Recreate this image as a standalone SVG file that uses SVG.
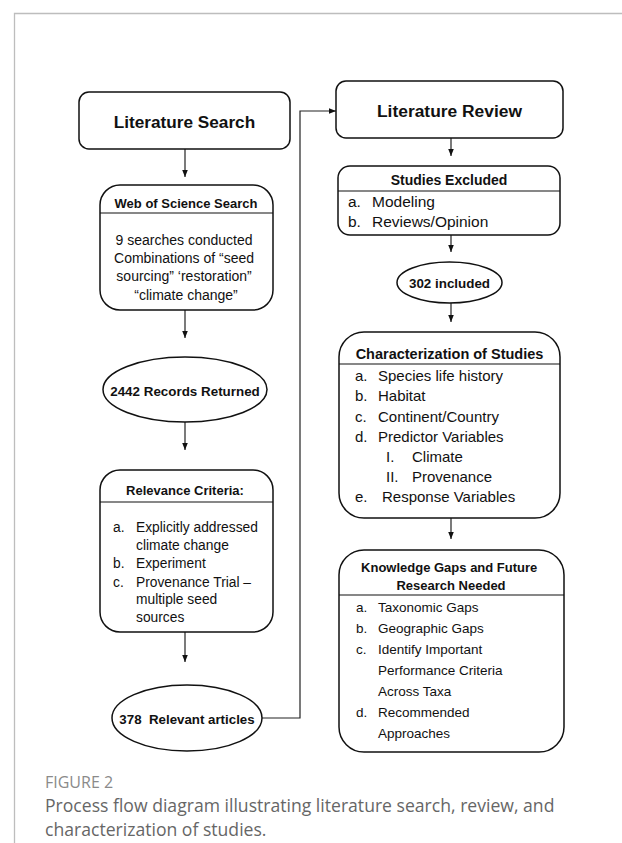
<svg xmlns="http://www.w3.org/2000/svg" width="622" height="843" viewBox="0 0 622 843">
<defs>
<marker id="ah" viewBox="0 0 10 10" refX="10" refY="5" markerWidth="7" markerHeight="7" markerUnits="userSpaceOnUse" orient="auto">
<path d="M0,1 L10,5 L0,9 z" fill="#111"/>
</marker>
<style>
.box{fill:#fff;stroke:#111;stroke-width:1.5}
.sep{stroke:#111;stroke-width:1.2}
.t{font-family:"Liberation Sans",Arial,sans-serif;fill:#111}
.b{font-weight:bold}
.c{text-anchor:middle}
.con{fill:none;stroke:#222;stroke-width:1.2}
.frame{fill:none;stroke:#bdbdbd;stroke-width:1.3}
.cap{font-family:"Open Sans","Liberation Sans",sans-serif}
</style>
</defs>
<rect width="622" height="843" fill="#fff"/>
<path class="frame" d="M622,13.5 H14.5 V843"/>

<g id="connectors">
<path class="con" d="M185,149 V177" marker-end="url(#ah)"/>
<path class="con" d="M185,310 V338" marker-end="url(#ah)"/>
<path class="con" d="M185,422 V450" marker-end="url(#ah)"/>
<path class="con" d="M185,632 V662" marker-end="url(#ah)"/>
<path class="con" d="M261,718 H300 V111 H336" stroke="#555" marker-end="url(#ah)"/>
<path class="con" d="M451,138 V156" marker-end="url(#ah)"/>
<path class="con" d="M451,235 V252" marker-end="url(#ah)"/>
<path class="con" d="M451,303 V322" marker-end="url(#ah)"/>
<path class="con" d="M451,518 V539" marker-end="url(#ah)"/>
</g>

<g id="literature-search">
<rect class="box" x="79" y="92" width="211" height="57" rx="10"/>
<text class="t b c" x="184.5" y="128" font-size="17.2">Literature Search</text>
</g>

<g id="web-of-science">
<rect class="box" x="100" y="185" width="173" height="125" rx="20"/>
<line class="sep" x1="100" y1="213" x2="273" y2="213"/>
<text class="t b c" x="186" y="208" font-size="13">Web of Science Search</text>
<text class="t c" x="186" font-size="14">
<tspan x="186" y="245">9 searches conducted</tspan>
<tspan x="186" y="263">Combinations of “seed</tspan>
<tspan x="186" y="281">sourcing” ‘restoration”</tspan>
<tspan x="186" y="300">“climate change”</tspan>
</text>
</g>

<g id="records-returned">
<ellipse class="box" cx="185" cy="389.5" rx="82" ry="32.5"/>
<text class="t b c" x="185" y="396" font-size="13.4">2442 Records Returned</text>
</g>

<g id="relevance-criteria">
<rect class="box" x="100" y="470" width="173" height="162" rx="20"/>
<line class="sep" x1="100" y1="502" x2="273" y2="502"/>
<text class="t b c" x="185" y="495" font-size="13">Relevance Criteria:</text>
<g class="t" font-size="13.8">
<text x="113" y="532">a.</text><text x="136" y="532">Explicitly addressed</text>
<text x="136" y="550">climate change</text>
<text x="113" y="568">b.</text><text x="136" y="568">Experiment</text>
<text x="113" y="587">c.</text><text x="136" y="587">Provenance Trial –</text>
<text x="136" y="604">multiple seed</text>
<text x="136" y="622">sources</text>
</g>
</g>

<g id="relevant-articles">
<ellipse class="box" cx="187" cy="718" rx="75" ry="33"/>
<text class="t b c" x="187" y="724" font-size="13.3" style="white-space:pre">378  Relevant articles</text>
</g>

<g id="literature-review">
<rect class="box" x="336" y="81" width="227" height="57" rx="10"/>
<text class="t b c" x="449.5" y="117" font-size="17.4">Literature Review</text>
</g>

<g id="studies-excluded">
<rect class="box" x="338" y="166" width="222" height="69" rx="12"/>
<line class="sep" x1="338" y1="191" x2="560" y2="191"/>
<text class="t b c" x="449" y="185" font-size="14">Studies Excluded</text>
<g class="t" font-size="15.5">
<text x="348" y="206.5">a.</text><text x="372" y="206.5">Modeling</text>
<text x="348" y="226.5">b.</text><text x="372" y="226.5">Reviews/Opinion</text>
</g>
</g>

<g id="included">
<ellipse class="box" cx="449.5" cy="282.5" rx="52.5" ry="20.5"/>
<text class="t b c" x="449.5" y="288" font-size="13.4">302 included</text>
</g>

<g id="characterization">
<rect class="box" x="339" y="332" width="221" height="186" rx="25"/>
<line class="sep" x1="339" y1="364" x2="560" y2="364"/>
<text class="t b c" x="449.5" y="359" font-size="14.5">Characterization of Studies</text>
<g class="t" font-size="15">
<text x="355" y="380.5">a.</text><text x="378" y="380.5">Species life history</text>
<text x="355" y="401">b.</text><text x="378" y="401">Habitat</text>
<text x="355" y="421.5">c.</text><text x="378" y="421.5">Continent/Country</text>
<text x="355" y="441.5">d.</text><text x="378" y="441.5">Predictor Variables</text>
<text x="386" y="461.5">I.</text><text x="412" y="461.5">Climate</text>
<text x="386" y="481.5">II.</text><text x="412" y="481.5">Provenance</text>
<text x="355" y="502">e.</text><text x="382" y="502">Response Variables</text>
</g>
</g>

<g id="knowledge-gaps">
<rect class="box" x="339" y="550" width="225" height="202" rx="25"/>
<line class="sep" x1="339" y1="595" x2="564" y2="595"/>
<text class="t b c" font-size="13">
<tspan x="451" y="572">Knowledge Gaps and Future</tspan>
<tspan x="451" y="590">Research Needed</tspan>
</text>
<g class="t" font-size="13.5">
<text x="356" y="612">a.</text><text x="378" y="612">Taxonomic Gaps</text>
<text x="356" y="633">b.</text><text x="378" y="633">Geographic Gaps</text>
<text x="356" y="654">c.</text><text x="378" y="654">Identify Important</text>
<text x="378" y="675">Performance Criteria</text>
<text x="378" y="696">Across Taxa</text>
<text x="356" y="717">d.</text><text x="378" y="717">Recommended</text>
<text x="378" y="738">Approaches</text>
</g>
</g>

<g id="caption">
<text class="cap" x="45" y="788" font-size="16" fill="#8a8a8a">FIGURE 2</text>
<text class="cap" x="45" y="812" font-size="17.6" fill="#666">Process flow diagram illustrating literature search, review, and</text>
<text class="cap" x="45" y="836" font-size="17.6" fill="#666">characterization of studies.</text>
</g>
</svg>
